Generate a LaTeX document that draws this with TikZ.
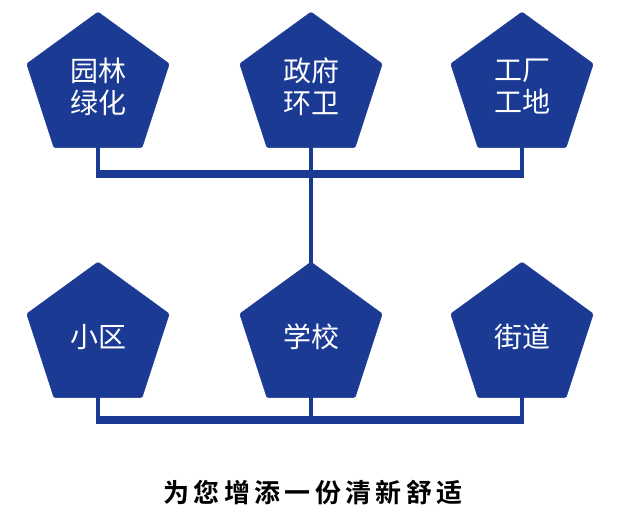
\documentclass[tikz,border=0pt]{standalone}
\usepackage{fontspec}
\newfontfamily\cjk{Noto Sans CJK SC}[BoldFont={Noto Sans CJK SC Bold}]
\usetikzlibrary{shapes.geometric}
\definecolor{pb}{HTML}{1B3A94}
\begin{document}
\begin{tikzpicture}[x=1pt,y=-1pt,
  pent/.style={regular polygon,regular polygon sides=5,minimum size=150pt,inner sep=0pt,outer sep=0pt,fill=pb,draw=pb,line join=round,rounded corners=1.5pt,text=white,font=\cjk\fontsize{28}{32}\selectfont,align=center},
  hl/.style={draw=pb,line width=8pt},
  vl/.style={draw=pb,line width=4pt}]
\useasboundingbox (0,0) rectangle (627,517);
\node[pent] (a) at (98,87) {园林\\绿化};
\node[pent] (b) at (311,87) {政府\\环卫};
\node[pent] (c) at (522,87) {工厂\\工地};
\node[pent] (d) at (98,337) {小区};
\node[pent] (e) at (311,337) {学校};
\node[pent] (f) at (522,337) {街道};
\coordinate (t1) at (98,174); \coordinate (t3) at (522,174);
\coordinate (b1) at (98,420); \coordinate (b3) at (522,420);
\coordinate (t2) at (311,174); \coordinate (b2) at (311,420);
\draw[vl] (98,140) -- (t1);
\draw[vl] (522,140) -- (t3);
\draw[vl] (311,140) -- (311,270);
\draw[vl] (98,390) -- (b1);
\draw[vl] (311,390) -- (b2);
\draw[vl] (522,390) -- (b3);
\draw[hl] ([xshift=-2pt]t1) -- ([xshift=2pt]t3);
\draw[hl] ([xshift=-2pt]b1) -- ([xshift=2pt]b3);
\node[font=\cjk\bfseries\fontsize{26}{30}\selectfont] (s) at (313,493) {为\,您\,增\,添\,一\,份\,清\,新\,舒\,适};
\end{tikzpicture}
\end{document}
